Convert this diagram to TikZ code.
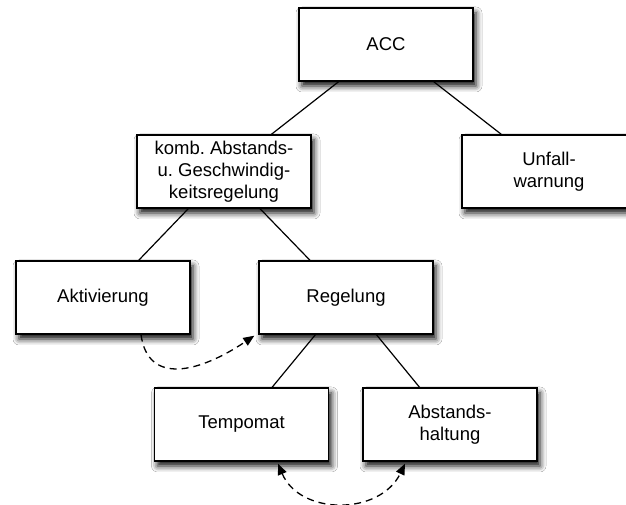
\documentclass[tikz,border=0pt]{standalone}
\usepackage{fontspec}
\setmainfont{Liberation Sans}
\usetikzlibrary{calc,arrows.meta,shadows.blur}
\frenchspacing

\tikzset{
  box/.style={draw=black, line width=1.4pt, fill=white, minimum width=174pt,
    minimum height=73pt, inner sep=0pt, align=center,
    font=\fontsize{18.5pt}{22pt}\selectfont,
    blur shadow={shadow xshift=3pt, shadow yshift=-5pt,
      shadow blur radius=6pt, shadow opacity=95}},
  link/.style={draw=black, line width=1.2pt},
  flow/.style={draw=black, line width=1.3pt, dash pattern=on 7pt off 5pt,
    -{Triangle[length=11pt,width=9pt]}},
  flowboth/.style={flow, {Triangle[length=11pt,width=9pt]}-{Triangle[length=11pt,width=9pt]}}
}

\begin{document}
\begin{tikzpicture}[x=1pt,y=1pt]
  \useasboundingbox (0,0) rectangle (626,505);
  \clip (0,0) rectangle (626,505);
  \fill[white] (0,0) rectangle (626,505);

  % tree of functions
  \node[box] (acc)      at (386,460.5) {ACC};
  \node[box] (komb)     at (224,333.5) {komb. Abstands-\\u. Geschwindig-\\keitsregelung};
  \node[box] (unfall)   at (549,333.5) {Unfall-\\warnung};
  \node[box] (akt)      at (103,207.5) {Aktivierung};
  \node[box] (regelung) at (346,207.5) {Regelung};
  \node[box] (tempomat) at (241.5,80.5) {Tempomat};
  \node[box] (abstand)  at (450,80.5) {Abstands-\\haltung};

  % hierarchy links
  \draw[link] (acc) -- (komb);
  \draw[link] (acc) -- (unfall);
  \draw[link] (komb) -- (akt);
  \draw[link] (komb) -- (regelung);
  \draw[link] (regelung) -- (tempomat);
  \draw[link] (regelung) -- (abstand);

  % activation triggers control
  \coordinate (a1) at ($(akt.south)+(38,0)$);
  \coordinate (a2) at ($(regelung.south west)+(-4,-1)$);
  \draw[flow] (a1) .. controls ($(a1)+(7,-51)$) and ($(a2)+(-55,-37)$) .. (a2);

  % switching between cruise control and distance keeping
  \coordinate (b1) at ($(tempomat.south)+(36.5,-2)$);
  \coordinate (b2) at ($(abstand.south)+(-45,-2)$);
  \draw[flowboth] (b1) .. controls ($(b1)+(22,-52)$) and ($(b2)+(-25,-52)$) .. (b2);
\end{tikzpicture}
\end{document}
